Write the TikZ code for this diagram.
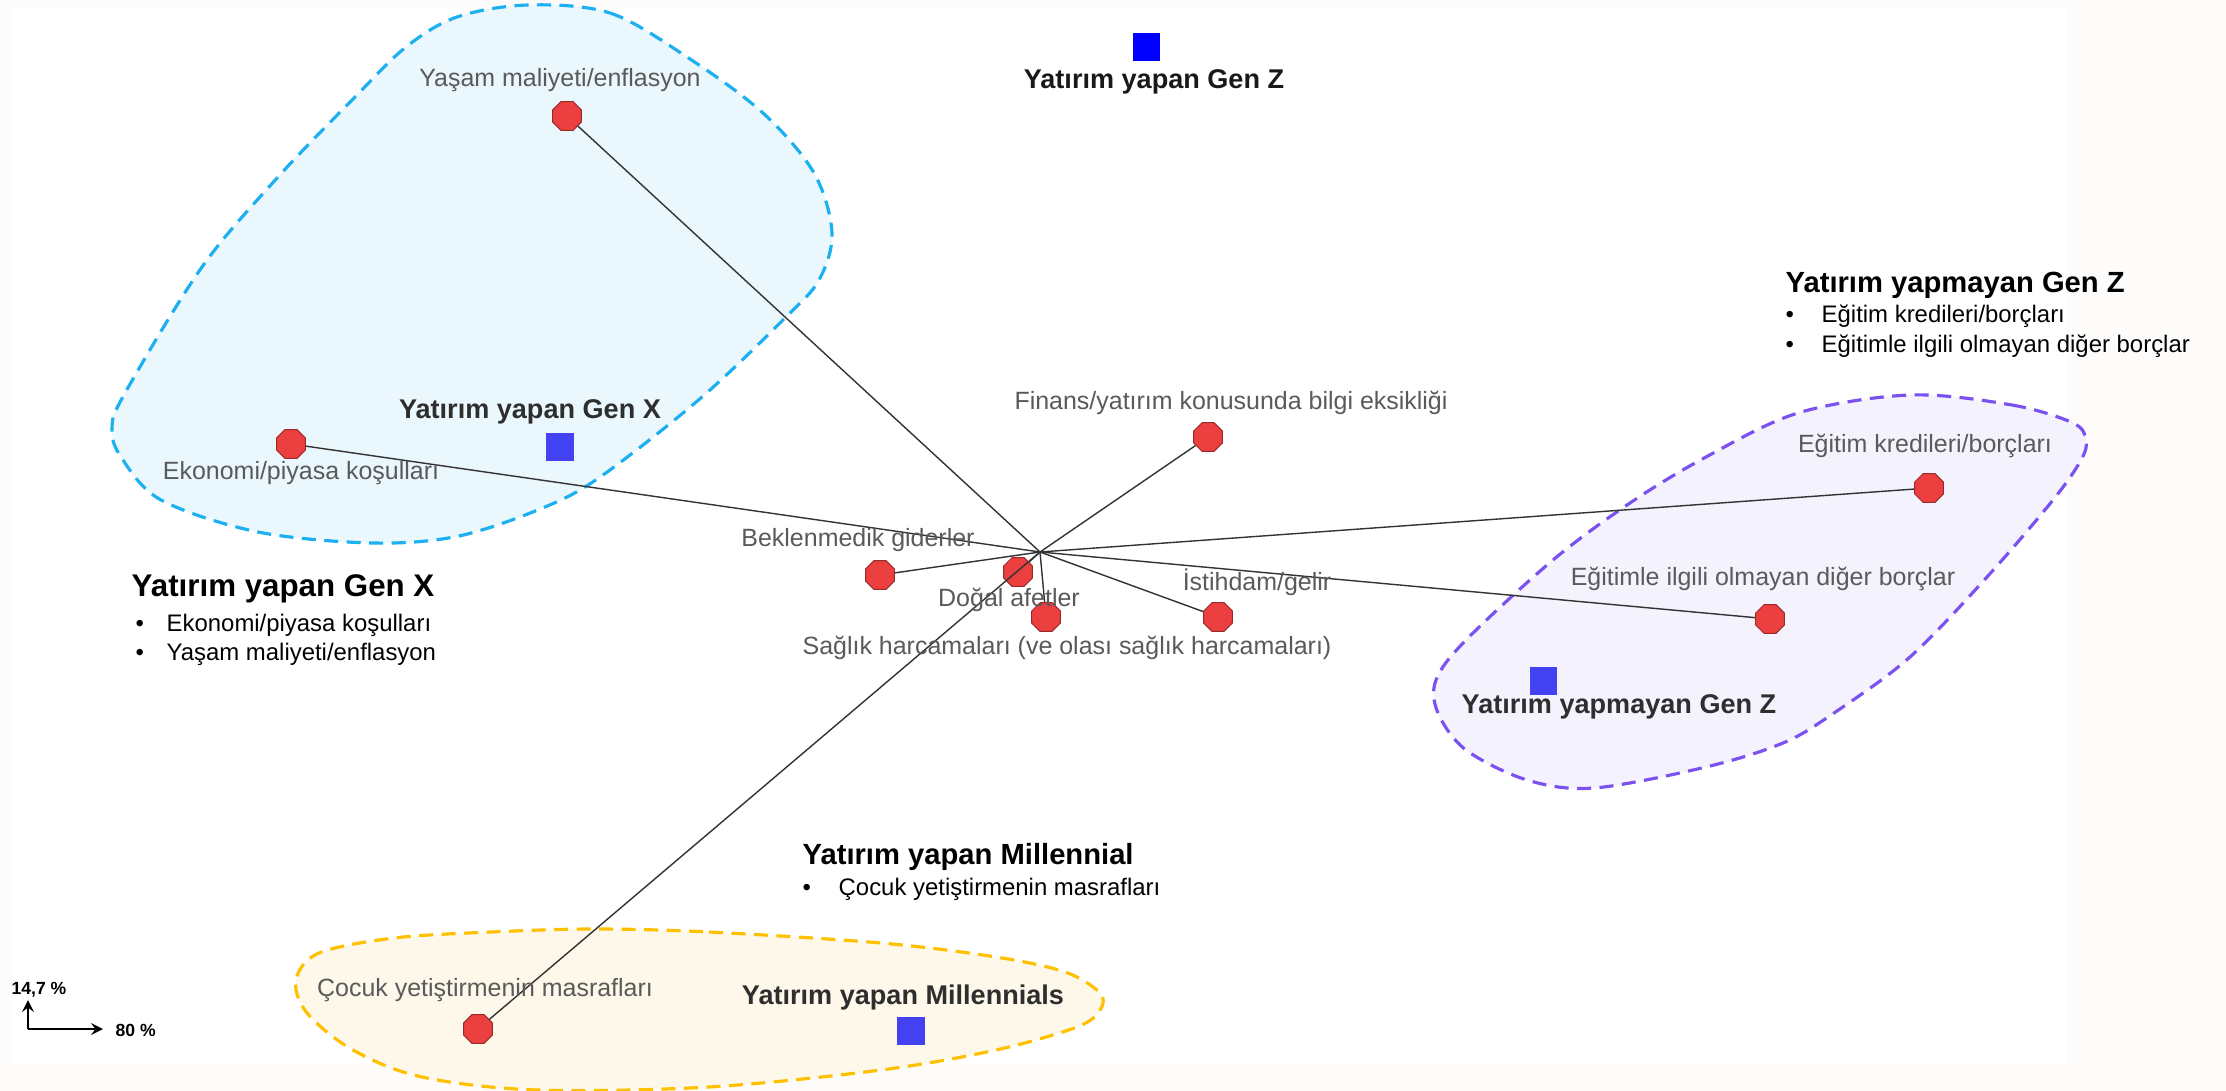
\documentclass[tikz,border=0pt]{standalone}
\usepackage{fontspec}
\setmainfont{Liberation Sans}
\usetikzlibrary{shapes.geometric}

\definecolor{pagebg}{HTML}{FDFCFA}
\definecolor{genxline}{HTML}{1CB0F0}
\definecolor{genxfill}{HTML}{EAF7FD}
\definecolor{genzline}{HTML}{7B52F0}
\definecolor{genzfill}{HTML}{F3F2FD}
\definecolor{millline}{HTML}{FFC000}
\definecolor{millfill}{HTML}{FDF8EA}
\definecolor{dotred}{HTML}{EC4040}
\definecolor{dotrim}{HTML}{9A2A2A}
\definecolor{sqblue}{HTML}{4242F2}
\definecolor{lblgrey}{HTML}{5A5A5A}

\begin{document}
\begin{tikzpicture}[x=0.01cm, y=-0.01cm,
  hull/.style={line width=0.9pt, dash pattern=on 4pt off 2.4pt},
  risk/.style={regular polygon, regular polygon sides=8, draw=dotrim, fill=dotred,
    line width=0.3pt, minimum size=0.31cm, inner sep=0pt},
  grp/.style={rectangle, fill=sqblue, minimum size=0.27cm, inner sep=0pt},
  risklbl/.style={text=lblgrey, font=\fontsize{7.1pt}{8pt}\selectfont, inner sep=0pt},
  grplbl/.style={text=black!82, font=\bfseries\fontsize{7.7pt}{9pt}\selectfont, inner sep=0pt},
  headlbl/.style={anchor=west, font=\bfseries\fontsize{8.3pt}{10pt}\selectfont, inner sep=0pt},
  itemlbl/.style={anchor=west, font=\fontsize{6.8pt}{8pt}\selectfont, inner sep=0pt},
  spoke/.style={draw=black!80, line width=0.4pt}]

  % page and plot area
  \fill[pagebg] (0,0) rectangle (2226,1091);
  \fill[white] (13,7) rectangle (2066,1064);
  \useasboundingbox (0,0) rectangle (2226,1091);

  % group hulls
  \draw[hull, draw=genxline, fill=genxfill] plot[smooth cycle, tension=0.55] coordinates {
    (528,5) (610,13) (687,57) (763,113) (814,173) (832,233) (819,280) (786,317)
    (702,397) (603,475) (545,507) (459,536) (373,543) (258,532) (161,500)
    (121,457) (112,428) (125,393) (202,267) (278,177) (355,97) (406,47) (457,17)};
  \draw[hull, draw=genzline, fill=genzfill] plot[smooth cycle, tension=0.55] coordinates {
    (1910,395) (2012,405) (2073,423) (2086,440) (2081,460) (2053,500) (1987,577)
    (1910,657) (1834,713) (1783,743) (1706,767) (1594,788) (1527,780) (1466,750)
    (1438,713) (1436,680) (1466,640) (1553,560) (1630,503) (1706,457) (1798,413)};
  \draw[hull, draw=millline, fill=millfill] plot[smooth cycle, tension=0.55] coordinates {
    (594,929) (709,932) (881,943) (996,957) (1065,972) (1100,993) (1100,1010)
    (1077,1027) (996,1050) (881,1070) (709,1087) (537,1090) (422,1077) (353,1050)
    (307,1013) (296,980) (319,953) (394,938) (491,932)};

  % risks
  \coordinate (hub) at (1040,552);
  \node[risk] (yasam) at (567,116) {};
  \node[risk] (ekonomi) at (291,444) {};
  \node[risk] (finans) at (1208,437) {};
  \node[risk] (beklenmedik) at (880,575) {};
  \node[risk] (dogal) at (1018,572) {};
  \node[risk] (saglik) at (1046,617) {};
  \node[risk] (istihdam) at (1218,617) {};
  \node[risk] (egitim) at (1929,488) {};
  \node[risk] (digerborc) at (1770,619) {};
  \node[risk] (cocuk) at (478,1029) {};
  \foreach \r in {yasam,ekonomi,finans,beklenmedik,dogal,saglik,istihdam,egitim,digerborc,cocuk}
    \draw[spoke] (hub) -- (\r);

  \node[risklbl] (yasamlbl) at (560,80) {Yaşam maliyeti/enflasyon};
  \node[risklbl] (ekonomilbl) at (301,473) {Ekonomi/piyasa koşulları};
  \node[risklbl] (finanslbl) at (1231,403) {Finans/yatırım konusunda bilgi eksikliği};
  \node[risklbl] (beklenmediklbl) at (858,540) {Beklenmedik giderler};
  \node[risklbl] (dogallbl) at (1009,600) {Doğal afetler};
  \node[risklbl] (sagliklbl) at (1067,648) {Sağlık harcamaları (ve olası sağlık harcamaları)};
  \node[risklbl] (istihdamlbl) at (1257,582) {İstihdam/gelir};
  \node[risklbl] (egitimlbl) at (1925,446) {Eğitim kredileri/borçları};
  \node[risklbl] (digerborclbl) at (1763,579) {Eğitimle ilgili olmayan diğer borçlar};
  \node[risklbl] (cocuklbl) at (485,990) {Çocuk yetiştirmenin masrafları};

  % groups
  \node[grp, fill=blue] (genzinv) at (1146,47) {};
  \node[grp] (genxinv) at (560,447) {};
  \node[grp] (genznon) at (1543,681) {};
  \node[grp] (millinv) at (911,1031) {};
  \node[grplbl, text=black!90] (genzinvlbl) at (1154,82) {Yatırım yapan Gen Z};
  \node[grplbl] (genxinvlbl) at (530,412) {Yatırım yapan Gen X};
  \node[grplbl] (genznonlbl) at (1619,707) {Yatırım yapmayan Gen Z};
  \node[grplbl] (millinvlbl) at (903,997) {Yatırım yapan Millennials};

  % side notes
  \node[headlbl, font=\bfseries\fontsize{8.9pt}{10pt}\selectfont] (genxhead) at (131,589) {Yatırım yapan Gen X};
  \node[itemlbl] (genxitem1) at (135,625) {\makebox[0.31cm][l]{\textbullet}Ekonomi/piyasa koşulları};
  \node[itemlbl] (genxitem2) at (135,654) {\makebox[0.31cm][l]{\textbullet}Yaşam maliyeti/enflasyon};
  \node[headlbl] (genzhead) at (1785,285) {Yatırım yapmayan Gen Z};
  \node[itemlbl] (genzitem1) at (1785,316) {\makebox[0.36cm][l]{\textbullet}Eğitim kredileri/borçları};
  \node[itemlbl] (genzitem2) at (1785,346) {\makebox[0.36cm][l]{\textbullet}Eğitimle ilgili olmayan diğer borçlar};
  \node[headlbl] (millhead) at (802,857) {Yatırım yapan Millennial};
  \node[itemlbl] (millitem1) at (802,889) {\makebox[0.36cm][l]{\textbullet}Çocuk yetiştirmenin masrafları};

  % axis scale
  \coordinate (sc0) at (28,1029);
  \coordinate (scy) at (28,1000);
  \coordinate (scx) at (103,1029);
  \draw[->, >=stealth, line width=0.5pt] (sc0) -- (scy);
  \draw[->, >=stealth, line width=0.5pt] (sc0) -- (scx);
  \node[font=\bfseries\fontsize{5pt}{6pt}\selectfont, inner sep=0pt] (scylbl) at (39,990) {14,7 \%};
  \node[font=\bfseries\fontsize{5pt}{6pt}\selectfont, inner sep=0pt, anchor=west] (scxlbl) at (115,1030) {80 \%};
\end{tikzpicture}
\end{document}
